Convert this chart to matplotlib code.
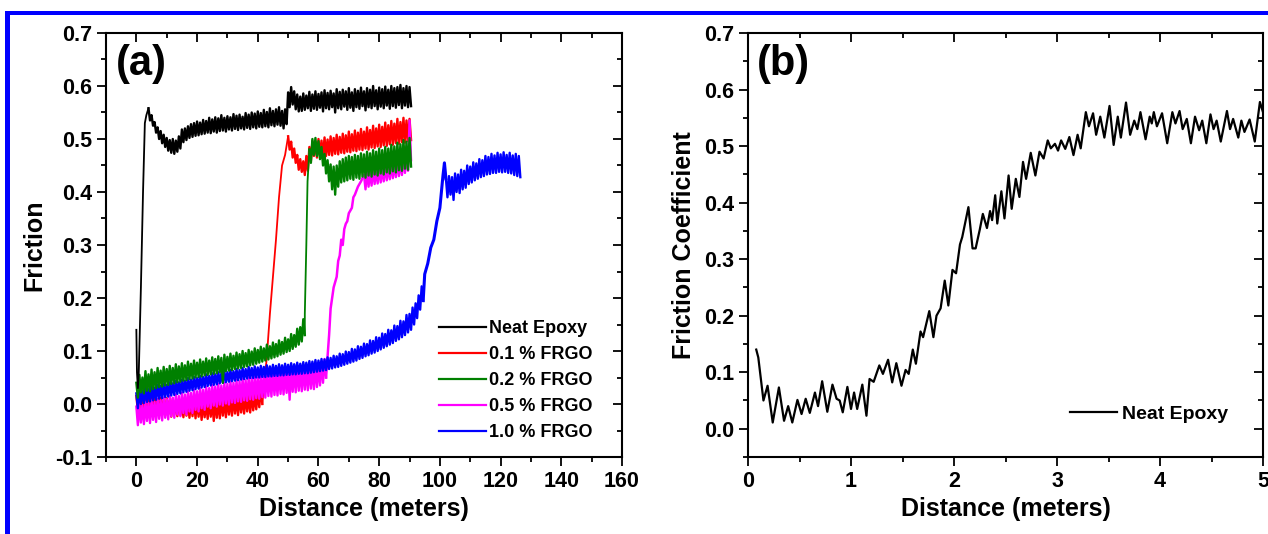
import numpy as np
import matplotlib
matplotlib.use("Agg")
import matplotlib.pyplot as plt
from matplotlib.ticker import MultipleLocator
from matplotlib.patches import Rectangle
from matplotlib.lines import Line2D

plt.rcParams['font.family'] = ['Liberation Sans', 'DejaVu Sans']
plt.rcParams['font.weight'] = 'bold'
plt.rcParams['axes.unicode_minus'] = False

# ---------- panel (a): friction vs distance (m) ----------
# noisy plateaus: top and bottom of the noise band read every 1 m
# steep rises: single trace with their own x

# Neat Epoxy
neat_rise_x = [0, 0.2, 0.5, 0.8, 1.5, 2.2, 2.8, 3.3]
neat_rise_y = [0.14, 0.06, 0.03, 0.06, 0.22, 0.40, 0.53, 0.545]
neat_start = 4
neat_up = [0.558, 0.545, 0.532, 0.522, 0.515, 0.508, 0.502, 0.498, 0.500, 0.497,
           0.505, 0.518, 0.520, 0.524, 0.528, 0.530, 0.533, 0.531, 0.536, 0.534,
           0.540, 0.537, 0.541, 0.539, 0.545, 0.540, 0.543, 0.541, 0.547, 0.544,
           0.546, 0.542, 0.549, 0.546, 0.550, 0.548, 0.552, 0.549, 0.555, 0.551,
           0.558, 0.553, 0.556, 0.560, 0.553, 0.556,
           0.588, 0.598, 0.590, 0.584, 0.580, 0.586, 0.582, 0.589, 0.584, 0.590,
           0.585, 0.588, 0.592, 0.587, 0.591, 0.586, 0.594, 0.589, 0.593, 0.590,
           0.596, 0.588, 0.594, 0.591, 0.597, 0.590, 0.596, 0.593, 0.600, 0.592,
           0.597, 0.594, 0.599, 0.593, 0.600, 0.596, 0.598, 0.602, 0.596, 0.600,
           0.598]
neat_lo = [0.535, 0.525, 0.512, 0.500, 0.492, 0.485, 0.478, 0.474, 0.472, 0.476,
           0.482, 0.494, 0.498, 0.502, 0.504, 0.506, 0.507, 0.509, 0.510, 0.512,
           0.511, 0.514, 0.512, 0.515, 0.516, 0.514, 0.518, 0.516, 0.519, 0.517,
           0.520, 0.518, 0.521, 0.519, 0.522, 0.520, 0.523, 0.522, 0.524, 0.522,
           0.526, 0.524, 0.527, 0.525, 0.520, 0.528,
           0.560, 0.565, 0.556, 0.552, 0.553, 0.555, 0.558, 0.553, 0.557, 0.555,
           0.559, 0.552, 0.558, 0.556, 0.560, 0.550, 0.558, 0.556, 0.561, 0.555,
           0.559, 0.553, 0.560, 0.557, 0.562, 0.554, 0.560, 0.558, 0.562, 0.556,
           0.561, 0.558, 0.563, 0.557, 0.562, 0.559, 0.564, 0.558, 0.563, 0.560,
           0.562]

# 0.1 % FRGO
frgo01_low_up = [0.015, 0.012, 0.016, 0.010, 0.014, 0.011, 0.013, 0.009, 0.012, 0.008,
                 0.011, 0.007, 0.010, 0.006, 0.009, 0.005, 0.008, 0.004, 0.007, 0.005,
                 0.008, 0.003, 0.006, 0.004, 0.008, 0.005, 0.009, 0.007, 0.012, 0.008,
                 0.013, 0.010, 0.016, 0.012, 0.017, 0.014, 0.019, 0.016, 0.021, 0.018,
                 0.024, 0.030]
frgo01_low_lo = [-0.012, -0.015, -0.014, -0.018, -0.016, -0.020, -0.017, -0.021, -0.018, -0.022,
                 -0.019, -0.024, -0.020, -0.023, -0.021, -0.025, -0.022, -0.026, -0.023, -0.027,
                 -0.024, -0.030, -0.025, -0.028, -0.024, -0.032, -0.026, -0.027, -0.022, -0.025,
                 -0.020, -0.022, -0.018, -0.021, -0.016, -0.018, -0.014, -0.016, -0.012, -0.010,
                 -0.006, 0.000]
frgo01_rise_x = [42, 43, 44, 45, 46, 47, 48, 49]
frgo01_rise_y = [0.03, 0.09, 0.17, 0.24, 0.31, 0.39, 0.45, 0.47]
frgo01_high_start = 50
frgo01_high_up = [0.505, 0.495, 0.482, 0.470, 0.462, 0.458, 0.468, 0.485, 0.496, 0.495,
                  0.500, 0.497, 0.503, 0.499, 0.505, 0.502, 0.508, 0.504, 0.510, 0.507,
                  0.514, 0.509, 0.516, 0.512, 0.519, 0.514, 0.522, 0.517, 0.525, 0.520,
                  0.527, 0.523, 0.531, 0.526, 0.534, 0.529, 0.538, 0.532, 0.540, 0.535,
                  0.538]
frgo01_high_lo = [0.480, 0.465, 0.455, 0.442, 0.438, 0.432, 0.440, 0.458, 0.468, 0.465,
                  0.470, 0.466, 0.468, 0.470, 0.469, 0.472, 0.471, 0.474, 0.473, 0.476,
                  0.475, 0.478, 0.477, 0.480, 0.479, 0.482, 0.480, 0.484, 0.483, 0.486,
                  0.485, 0.488, 0.487, 0.490, 0.489, 0.492, 0.491, 0.494, 0.493, 0.496,
                  0.498]

# 0.2 % FRGO
frgo02_low_up = [0.040, 0.055, 0.050, 0.062, 0.056, 0.065, 0.060, 0.068, 0.063, 0.070,
                 0.066, 0.072, 0.068, 0.075, 0.071, 0.077, 0.073, 0.080, 0.076, 0.082,
                 0.078, 0.084, 0.080, 0.086, 0.082, 0.088, 0.085, 0.090, 0.087, 0.093,
                 0.089, 0.095, 0.091, 0.097, 0.094, 0.100, 0.096, 0.102, 0.099, 0.105,
                 0.102, 0.108, 0.105, 0.112, 0.109, 0.116, 0.113, 0.120, 0.117, 0.125,
                 0.122, 0.132, 0.130, 0.142, 0.145, 0.160]
frgo02_low_lo = [0.012, 0.022, 0.020, 0.025, 0.024, 0.028, 0.030, 0.032, 0.033, 0.035,
                 0.036, 0.038, 0.039, 0.041, 0.042, 0.044, 0.045, 0.047, 0.048, 0.050,
                 0.051, 0.052, 0.054, 0.055, 0.056, 0.057, 0.058, 0.060, 0.040, 0.062,
                 0.063, 0.064, 0.066, 0.067, 0.068, 0.070, 0.071, 0.073, 0.074, 0.076,
                 0.078, 0.080, 0.082, 0.084, 0.086, 0.088, 0.090, 0.093, 0.095, 0.098,
                 0.100, 0.104, 0.108, 0.112, 0.118, 0.130]
frgo02_rise_x = [55.5, 56, 56.4, 56.8]
frgo02_rise_y = [0.17, 0.30, 0.42, 0.46]
frgo02_high_start = 57
frgo02_high_up = [0.480, 0.500, 0.502, 0.496, 0.485, 0.472, 0.460, 0.452, 0.448, 0.450,
                  0.458, 0.462, 0.465, 0.468, 0.466, 0.470, 0.468, 0.473, 0.471, 0.476,
                  0.473, 0.479, 0.476, 0.482, 0.479, 0.485, 0.482, 0.489, 0.486, 0.493,
                  0.490, 0.498, 0.495, 0.502]
frgo02_high_lo = [0.455, 0.470, 0.468, 0.462, 0.450, 0.435, 0.420, 0.405, 0.395, 0.410,
                  0.418, 0.420, 0.422, 0.425, 0.423, 0.427, 0.425, 0.429, 0.427, 0.431,
                  0.429, 0.433, 0.431, 0.435, 0.433, 0.437, 0.435, 0.439, 0.437, 0.441,
                  0.440, 0.444, 0.442, 0.448]

# 0.5 % FRGO
frgo05_low_up = [-0.005, 0.000, -0.002, 0.004, 0.002, 0.007, 0.004, 0.009, 0.007, 0.012,
                 0.009, 0.015, 0.012, 0.018, 0.015, 0.021, 0.018, 0.024, 0.021, 0.027,
                 0.024, 0.030, 0.027, 0.033, 0.030, 0.036, 0.033, 0.038, 0.035, 0.040,
                 0.038, 0.043, 0.040, 0.045, 0.043, 0.048, 0.045, 0.050, 0.048, 0.052,
                 0.050, 0.055, 0.052, 0.057, 0.055, 0.060, 0.057, 0.062, 0.060, 0.064,
                 0.062, 0.066, 0.064, 0.068, 0.066, 0.070, 0.068, 0.072, 0.070, 0.075,
                 0.074, 0.080, 0.085]
frgo05_low_lo = [-0.040, -0.035, -0.038, -0.032, -0.036, -0.030, -0.034, -0.028, -0.031, -0.026,
                 -0.029, -0.023, -0.026, -0.020, -0.023, -0.017, -0.020, -0.014, -0.017, -0.011,
                 -0.014, -0.008, -0.011, -0.005, -0.008, -0.003, -0.005, -0.001, -0.003, 0.001,
                 -0.001, 0.003, 0.002, 0.005, 0.004, 0.007, 0.006, 0.009, 0.008, 0.011,
                 0.010, 0.013, 0.012, 0.015, 0.014, 0.017, 0.016, 0.019, 0.018, 0.021,
                 0.008, 0.023, 0.022, 0.025, 0.024, 0.027, 0.026, 0.029, 0.028, 0.032,
                 0.035, 0.040, 0.050]
frgo05_rise_x = [63, 63.5, 64, 65, 66, 66.5, 67, 67.5, 68, 68.5, 69, 69.5, 70, 71, 71.5, 72, 73, 74]
frgo05_rise_y = [0.09, 0.13, 0.18, 0.22, 0.24, 0.27, 0.28, 0.31, 0.30, 0.33, 0.34, 0.345,
                 0.36, 0.37, 0.39, 0.395, 0.41, 0.42]
frgo05_high_start = 75
frgo05_high_up = [0.432, 0.440, 0.438, 0.445, 0.442, 0.448, 0.446, 0.452, 0.450, 0.457,
                  0.455, 0.462, 0.460, 0.470, 0.480, 0.535]
frgo05_high_lo = [0.405, 0.410, 0.412, 0.415, 0.416, 0.418, 0.420, 0.422, 0.424, 0.426,
                  0.428, 0.430, 0.432, 0.436, 0.440, 0.460]

# 1.0 % FRGO
frgo10_low_up = [0.020, 0.028, 0.025, 0.031, 0.028, 0.034, 0.031, 0.036, 0.034, 0.039,
                 0.036, 0.041, 0.039, 0.044, 0.041, 0.046, 0.044, 0.049, 0.046, 0.051,
                 0.049, 0.053, 0.051, 0.056, 0.053, 0.058, 0.056, 0.060, 0.058, 0.062,
                 0.060, 0.064, 0.062, 0.066, 0.064, 0.068, 0.066, 0.070, 0.068, 0.071,
                 0.069, 0.072, 0.070, 0.073, 0.071, 0.074, 0.072, 0.075, 0.073, 0.076,
                 0.074, 0.077, 0.075, 0.078, 0.076, 0.079, 0.078, 0.081, 0.080, 0.083,
                 0.082, 0.085, 0.084, 0.088, 0.087, 0.091, 0.090, 0.095, 0.094, 0.099,
                 0.098, 0.104, 0.103, 0.109, 0.108, 0.114, 0.113, 0.120, 0.119, 0.126,
                 0.125, 0.133, 0.132, 0.140, 0.139, 0.148, 0.147, 0.157, 0.156, 0.168,
                 0.170, 0.182, 0.190, 0.205, 0.222]
frgo10_low_lo = [-0.008, 0.000, 0.002, 0.004, 0.005, 0.007, 0.008, 0.010, 0.011, 0.013,
                 0.014, 0.016, 0.017, 0.019, 0.020, 0.022, 0.023, 0.025, 0.026, 0.028,
                 0.029, 0.031, 0.032, 0.034, 0.035, 0.036, 0.037, 0.039, 0.040, 0.041,
                 0.042, 0.043, 0.044, 0.045, 0.046, 0.047, 0.048, 0.049, 0.049, 0.050,
                 0.050, 0.051, 0.051, 0.052, 0.052, 0.053, 0.053, 0.054, 0.054, 0.055,
                 0.055, 0.056, 0.056, 0.057, 0.057, 0.058, 0.058, 0.059, 0.060, 0.061,
                 0.062, 0.063, 0.064, 0.066, 0.067, 0.069, 0.070, 0.072, 0.074, 0.076,
                 0.078, 0.080, 0.082, 0.085, 0.087, 0.090, 0.092, 0.095, 0.097, 0.100,
                 0.103, 0.106, 0.109, 0.112, 0.115, 0.119, 0.122, 0.126, 0.130, 0.135,
                 0.140, 0.150, 0.162, 0.178, 0.195]
frgo10_rise_x = [95, 96, 97, 98, 99, 100, 100.5, 101, 101.5]
frgo10_rise_y = [0.245, 0.265, 0.295, 0.31, 0.345, 0.37, 0.40, 0.43, 0.455]
frgo10_high_start = 102
frgo10_high_up = [0.425, 0.430, 0.428, 0.435, 0.433, 0.442, 0.440, 0.450, 0.448, 0.456,
                  0.454, 0.462, 0.460, 0.468, 0.466, 0.472, 0.469, 0.474, 0.471, 0.475,
                  0.470, 0.474, 0.469, 0.472, 0.468]
frgo10_high_lo = [0.390, 0.395, 0.385, 0.400, 0.398, 0.405, 0.408, 0.415, 0.418, 0.422,
                  0.425, 0.428, 0.430, 0.433, 0.434, 0.436, 0.436, 0.438, 0.437, 0.438,
                  0.436, 0.435, 0.432, 0.430, 0.428]

# ---------- panel (b): neat epoxy, first 5 m ----------
b_x = [0.08, 0.10, 0.15, 0.19, 0.24, 0.30, 0.35, 0.39, 0.43, 0.48, 0.52, 0.56, 0.60,
       0.65, 0.68, 0.72, 0.77, 0.82, 0.86, 0.89, 0.92, 0.965, 1.00, 1.03, 1.06, 1.11,
       1.15, 1.18, 1.22, 1.275, 1.31, 1.36, 1.40, 1.44, 1.49, 1.53, 1.56, 1.60, 1.63,
       1.675, 1.70, 1.76, 1.80, 1.83, 1.87, 1.91, 1.945, 1.985, 2.02, 2.058, 2.08,
       2.14, 2.18, 2.21, 2.25, 2.28, 2.32, 2.35, 2.37, 2.40, 2.42, 2.46, 2.49, 2.53,
       2.56, 2.60, 2.635, 2.67, 2.70, 2.745, 2.79, 2.83, 2.87, 2.91, 2.94, 2.98, 3.01,
       3.04, 3.08, 3.12, 3.16, 3.20, 3.23, 3.28, 3.31, 3.35, 3.38, 3.42, 3.46, 3.51,
       3.55, 3.59, 3.62, 3.67, 3.71, 3.75, 3.78, 3.81, 3.86, 3.90, 3.92, 3.94, 3.97,
       4.02, 4.07, 4.12, 4.15, 4.19, 4.22, 4.26, 4.30, 4.34, 4.38, 4.41, 4.45, 4.49,
       4.52, 4.55, 4.59, 4.65, 4.68, 4.71, 4.76, 4.79, 4.82, 4.87, 4.92, 4.97, 5.0]
b_y = [0.140, 0.126, 0.050, 0.076, 0.011, 0.073, 0.014, 0.040, 0.011, 0.051, 0.026,
       0.053, 0.028, 0.064, 0.040, 0.084, 0.030, 0.078, 0.053, 0.050, 0.029, 0.074,
       0.035, 0.064, 0.035, 0.078, 0.023, 0.088, 0.083, 0.112, 0.097, 0.122, 0.082,
       0.116, 0.076, 0.104, 0.097, 0.140, 0.115, 0.172, 0.162, 0.208, 0.162, 0.200,
       0.213, 0.262, 0.218, 0.281, 0.275, 0.326, 0.339, 0.392, 0.319, 0.319, 0.352,
       0.380, 0.355, 0.385, 0.369, 0.413, 0.363, 0.420, 0.372, 0.448, 0.389, 0.442,
       0.410, 0.472, 0.442, 0.488, 0.448, 0.490, 0.478, 0.510, 0.496, 0.504, 0.492,
       0.510, 0.495, 0.516, 0.484, 0.520, 0.496, 0.560, 0.535, 0.558, 0.520, 0.552,
       0.515, 0.571, 0.502, 0.552, 0.515, 0.577, 0.520, 0.545, 0.530, 0.560, 0.512,
       0.552, 0.540, 0.560, 0.535, 0.558, 0.505, 0.560, 0.540, 0.562, 0.530, 0.548,
       0.505, 0.552, 0.528, 0.545, 0.505, 0.556, 0.530, 0.545, 0.508, 0.562, 0.530,
       0.548, 0.515, 0.545, 0.525, 0.547, 0.508, 0.578, 0.560]

labels = ['Neat Epoxy', '0.1 % FRGO', '0.2 % FRGO', '0.5 % FRGO', '1.0 % FRGO']
colors = ['black', '#ff0000', '#008000', '#ff00ff', '#0000ff']


def band_trace(start, up, lo):
    # alternate band top and bottom so the trace fills the noise band
    x = start + np.arange(len(up))
    xx = np.column_stack((x, x + 0.5)).ravel()
    yy = np.column_stack((up, lo)).ravel()
    return xx, yy


def plot_series(ax, color, z, parts, rise_x, rise_y, rise_lw=1.3):
    traces = [band_trace(*p) for p in parts]
    for xx, yy in traces:
        ax.plot(xx, yy, color=color, lw=1.7, zorder=z)
    # steep part joined to the neighbouring bands
    if len(traces) == 1:
        xx, yy = traces[0]
        rx = list(rise_x) + [xx[0]]
        ry = list(rise_y) + [yy[0]]
    else:
        (xa, ya), (xb, yb) = traces
        rx = [xa[-1]] + list(rise_x) + [xb[0]]
        ry = [ya[-1]] + list(rise_y) + [yb[0]]
    ax.plot(rx, ry, color=color, lw=rise_lw, zorder=z)


fig = plt.figure(figsize=(12.68, 5.34), dpi=100)

# blue frame at top and left
fig.add_artist(Rectangle((5 / 1268, 519 / 534), 1.0, 4 / 534, transform=fig.transFigure,
                         color='#0000ff', lw=0))
fig.add_artist(Rectangle((5 / 1268, 0), 5 / 1268, 523 / 534, transform=fig.transFigure,
                         color='#0000ff', lw=0))

ax1 = fig.add_axes([106 / 1268, 77 / 534, 516 / 1268, 424 / 534])
ax2 = fig.add_axes([748 / 1268, 77 / 534, 515 / 1268, 424 / 534])

plot_series(ax1, colors[1], 1, [(0, frgo01_low_up, frgo01_low_lo),
                                (frgo01_high_start, frgo01_high_up, frgo01_high_lo)],
            frgo01_rise_x, frgo01_rise_y)
plot_series(ax1, colors[3], 2, [(0, frgo05_low_up, frgo05_low_lo),
                                (frgo05_high_start, frgo05_high_up, frgo05_high_lo)],
            frgo05_rise_x, frgo05_rise_y, rise_lw=1.8)
plot_series(ax1, colors[4], 3, [(0, frgo10_low_up, frgo10_low_lo),
                                (frgo10_high_start, frgo10_high_up, frgo10_high_lo)],
            frgo10_rise_x, frgo10_rise_y, rise_lw=2.2)
plot_series(ax1, colors[2], 4, [(0, frgo02_low_up, frgo02_low_lo),
                                (frgo02_high_start, frgo02_high_up, frgo02_high_lo)],
            frgo02_rise_x, frgo02_rise_y)
plot_series(ax1, colors[0], 5, [(neat_start, neat_up, neat_lo)], neat_rise_x, neat_rise_y)

ax1.set_xlim(-10, 160)
ax1.set_ylim(-0.1, 0.7)
ax1.xaxis.set_major_locator(MultipleLocator(20))
ax1.xaxis.set_minor_locator(MultipleLocator(10))
ax1.yaxis.set_major_locator(MultipleLocator(0.1))
ax1.yaxis.set_minor_locator(MultipleLocator(0.05))
ax1.yaxis.set_major_formatter(plt.FormatStrFormatter('%.1f'))
ax1.set_xlabel('Distance (meters)', fontsize=18, fontweight='bold', labelpad=4)
ax1.set_ylabel('Friction', fontsize=18, fontweight='bold', labelpad=6)
ax1.text(0.02, 0.975, '(a)', transform=ax1.transAxes, fontsize=30, fontweight='bold',
         ha='left', va='top')
handles = [Line2D([], [], color=c, lw=1.6) for c in colors]
ax1.legend(handles=handles, labels=labels, loc='upper left', bbox_to_anchor=(0.645, 0.323),
           frameon=False, handlelength=2.6, handletextpad=0.2,
           labelspacing=0.5, borderpad=0, borderaxespad=0,
           prop={'weight': 'bold', 'size': 13})

ax2.plot(b_x, b_y, color='black', lw=1.6, label='Neat Epoxy')
ax2.set_xlim(0, 5)
ax2.set_ylim(-0.05, 0.7)
ax2.xaxis.set_major_locator(MultipleLocator(1))
ax2.xaxis.set_minor_locator(MultipleLocator(0.5))
ax2.yaxis.set_major_locator(MultipleLocator(0.1))
ax2.yaxis.set_minor_locator(MultipleLocator(0.05))
ax2.yaxis.set_major_formatter(plt.FormatStrFormatter('%.1f'))
ax2.set_xlabel('Distance (meters)', fontsize=18, fontweight='bold', labelpad=4)
ax2.set_ylabel('Friction Coefficient', fontsize=18, fontweight='bold', labelpad=6)
ax2.text(0.017, 0.975, '(b)', transform=ax2.transAxes, fontsize=30, fontweight='bold',
         ha='left', va='top')
ax2.legend(loc='upper left', bbox_to_anchor=(0.625, 0.122), frameon=False,
           handlelength=2.4, handletextpad=0.3, borderpad=0, borderaxespad=0,
           prop={'weight': 'bold', 'size': 14})

for ax in (ax1, ax2):
    for s in ax.spines.values():
        s.set_linewidth(1.5)
    ax.tick_params(which='both', top=True, right=True, width=1.3, direction='out')
    ax.tick_params(which='major', length=6.5, labelsize=15.5)
    ax.tick_params(which='minor', length=3.5)
    for t in ax.get_xticklabels() + ax.get_yticklabels():
        t.set_fontweight('bold')
    # mirrored ticks on top/right point inward
    for tick in ax.xaxis.get_major_ticks() + ax.xaxis.get_minor_ticks():
        tick.tick2line.set_marker(3)
    for tick in ax.yaxis.get_major_ticks() + ax.yaxis.get_minor_ticks():
        tick.tick2line.set_marker(0)

fig.savefig('out.png', dpi=100)
